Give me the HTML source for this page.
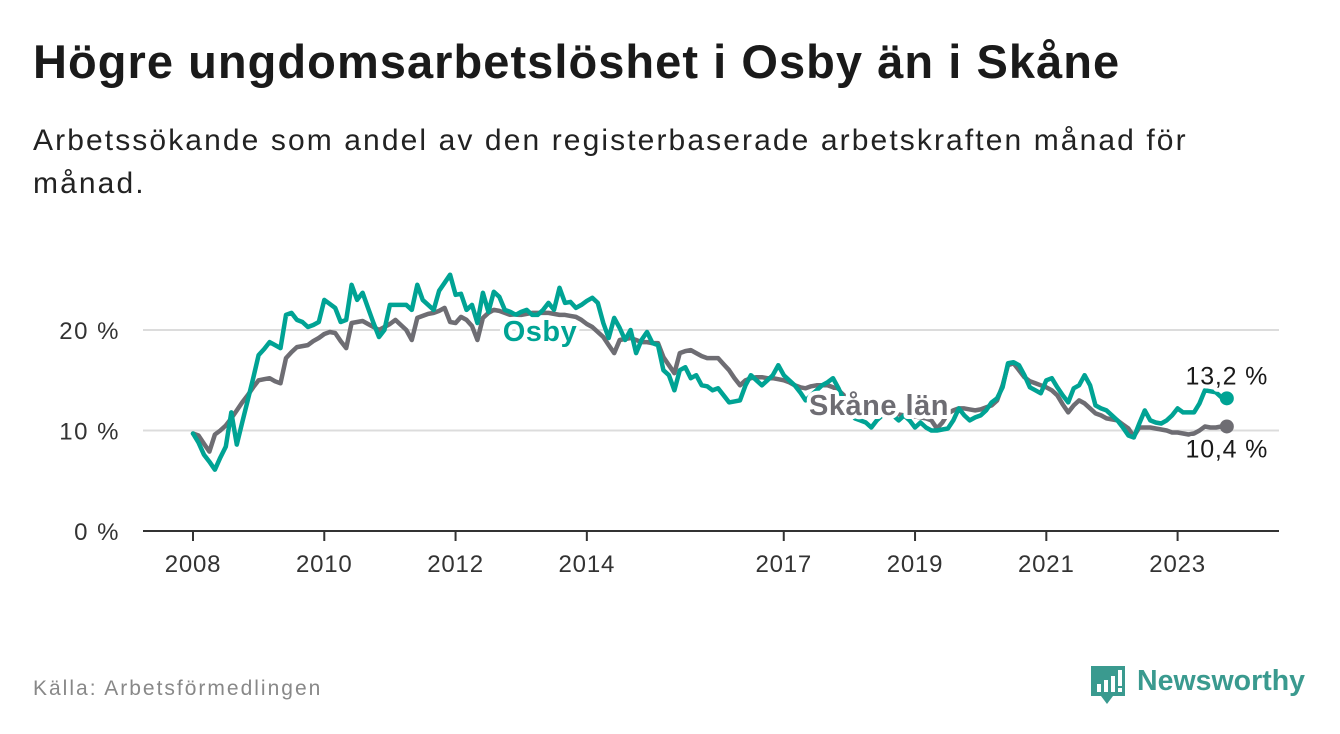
<!DOCTYPE html>
<html><head><meta charset="utf-8">
<style>
body{margin:0;background:#fff;font-family:"Liberation Sans",sans-serif;}
#wrap{position:relative;width:1340px;height:734px;overflow:hidden;background:#fff;}
h1{position:absolute;left:33px;top:34px;margin:0;font-size:47px;font-weight:bold;color:#1a1a1a;letter-spacing:1.05px;}
.sub{position:absolute;left:33px;top:119px;margin:0;font-size:30px;line-height:43px;letter-spacing:2.1px;color:#222;width:1230px;}
.src{position:absolute;left:33px;top:677px;font-size:21px;letter-spacing:2px;color:#888;}
svg text{font-family:"Liberation Sans",sans-serif;}
</style></head><body>
<div id="wrap">
<h1>Högre ungdomsarbetslöshet i Osby än i Skåne</h1>
<p class="sub">Arbetssökande som andel av den registerbaserade arbetskraften månad för<br>månad.</p>
<svg id="chart" width="1340" height="734" style="position:absolute;left:0;top:0"></svg>
<div class="src">Källa: Arbetsförmedlingen</div>
<div style="position:absolute;left:1089px;top:662px;">
<svg width="240" height="44"><path d="M2 4 h34 v30 h-12 l-6 8 l-6 -8 h-10 z" fill="#3a9a8f"/><rect x="8" y="22" width="4" height="8" fill="#fff"/><rect x="15" y="18" width="4" height="12" fill="#fff"/><rect x="22" y="14" width="4" height="16" fill="#fff"/><rect x="29" y="8" width="4" height="16" fill="#fff"/><rect x="29" y="26" width="4" height="4" fill="#fff"/>
<text x="48" y="28" font-size="29" font-weight="bold" fill="#3a9a8f" textLength="168" lengthAdjust="spacingAndGlyphs">Newsworthy</text></svg></div>
</div>
<script>
const yearLabels=["2008","2010","2012","2014","2017","2019","2021","2023"];
const yTicks=[0,10,20];
const osby=[9.7,8.8,7.6,6.9,6.1,7.3,8.4,11.8,8.6,10.8,13.0,15.2,17.5,18.1,18.8,18.5,18.2,21.5,21.7,21.0,20.8,20.3,20.5,20.8,23.0,22.6,22.2,20.8,21.0,24.5,23.0,23.7,22.2,20.7,19.3,20.0,22.5,22.5,22.5,22.5,22.0,24.5,23.0,22.5,22.0,23.9,24.7,25.5,23.5,
23.6,22.0,22.5,20.7,23.7,21.8,23.8,23.3,22.0,21.8,21.5,21.8,22.0,21.5,21.5,22.0,22.7,22.0,24.2,22.7,22.8,22.2,22.5,22.9,23.2,22.7,20.7,19.2,21.2,20.2,19.0,20.0,17.7,19.0,19.8,18.7,18.5,16.0,15.5,14.0,16.0,16.3,15.2,15.5,14.5,14.4,14.0,
14.2,13.5,12.8,12.9,13.0,14.5,15.5,15.0,14.5,15.0,15.5,16.5,15.5,15.0,14.5,13.8,13.0,13.5,14.0,14.5,14.8,15.2,14.2,13.0,12.0,11.2,11.0,10.8,10.3,11.0,11.5,12.0,11.5,11.0,11.5,11.0,10.3,10.8,10.3,10.0,10.0,10.1,10.2,11.0,12.2,11.5,11.0,11.3,11.5,12.0,
12.8,13.2,14.3,16.7,16.8,16.5,15.5,14.3,14.0,13.7,15.0,15.2,14.3,13.5,12.8,14.2,14.5,15.5,14.5,12.5,12.2,12.0,11.5,11.0,10.3,9.5,9.3,10.7,12.0,11.0,10.8,10.7,11.0,11.5,12.2,11.8,11.8,11.8,12.7,14.0,13.9,13.8,13.3,13.2];
const skane=[9.7,9.5,8.7,7.9,9.6,10.0,10.5,11.2,12.0,12.8,13.5,14.3,15.0,15.1,15.2,14.9,14.7,17.2,17.8,18.3,18.4,18.5,18.9,19.2,19.6,19.8,19.7,18.9,18.2,20.7,20.8,20.9,20.6,20.3,20.0,20.3,20.6,21.0,20.5,20.0,19.0,21.2,21.4,21.6,21.7,21.9,22.2,20.8,20.7,
21.3,21.0,20.4,19.0,21.2,21.7,22.0,21.9,21.7,21.5,21.5,21.5,21.6,21.7,21.7,21.7,21.7,21.6,21.5,21.5,21.4,21.3,21.0,20.6,20.3,19.8,19.3,18.5,17.7,19.0,19.1,19.2,19.0,18.8,18.8,18.7,18.7,17.3,16.5,15.7,17.7,17.9,18.0,17.7,17.4,17.2,17.2,
17.2,16.6,16.0,15.2,14.5,15.0,15.2,15.3,15.3,15.2,15.2,15.1,15.0,14.8,14.5,14.3,14.2,14.4,14.5,14.5,14.5,14.3,14.0,13.5,13.0,12.8,12.5,12.3,12.2,12.0,11.8,11.8,11.7,11.6,11.5,11.5,11.4,11.3,11.2,11.0,10.2,10.8,11.7,12.0,12.2,12.2,12.1,12.0,12.1,12.3,
12.5,13.0,14.5,16.5,16.7,16.0,15.3,14.9,14.7,14.5,14.3,14.0,13.5,12.6,11.8,12.5,13.0,12.7,12.2,11.7,11.5,11.2,11.1,11.0,10.6,10.2,9.4,10.3,10.3,10.3,10.2,10.1,10.0,9.8,9.8,9.7,9.6,9.7,10.0,10.4,10.3,10.3,10.4,10.4];

const NS="http://www.w3.org/2000/svg";
const svg=document.getElementById('chart');
const X0=193, PXM=5.47, Y0=531, PXP=10.05;
const xM=m=>X0+m*PXM;
const xY=y=>X0+(parseInt(y)-2008)*12*PXM;
const yV=v=>Y0-v*PXP;
function el(t,a,txt){const e=document.createElementNS(NS,t);for(const k in a)e.setAttribute(k,a[k]);if(txt!==undefined)e.textContent=txt;svg.appendChild(e);return e;}
yTicks.forEach(t=>{
  if(t>0){const g=el('line',{x1:143,x2:1279,y1:yV(t),y2:yV(t),stroke:'#dcdcdc','stroke-width':2});
  
  }
  const l=el('text',{x:120,y:yV(t)+9,'text-anchor':'end','font-size':24,'letter-spacing':1.5,fill:'#333'},t+' %');
  
  
});
const ax=el('line',{x1:143,x2:1279,y1:Y0,y2:Y0,stroke:'#333','stroke-width':2});


yearLabels.forEach(y=>{
  const x=xY(y);
  const tk=el('line',{x1:x,x2:x,y1:Y0,y2:Y0+10,stroke:'#333','stroke-width':2});
  
  
  const l=el('text',{x:x,y:572,'text-anchor':'middle','font-size':24,'letter-spacing':0.8,fill:'#333'},y);
  
  
});
function line(arr,color,name){
  const d=arr.map((v,i)=>(i?'L':'M')+xM(i).toFixed(1)+' '+yV(v).toFixed(1)).join(' ');
  const p=el('path',{d:d,fill:'none',stroke:color,'stroke-width':4.5,'stroke-linejoin':'round','stroke-linecap':'round'});
  
  
  const n=arr.length-1;
  const c=el('circle',{cx:xM(n),cy:yV(arr[n]),r:7,fill:color});
  
  
}
line(skane,'#6e6d73','skane-line');
line(osby,'#00a394','osby-line');
function lab(x,y,txt,color,bold,name){
  const t=el('text',{x:x,y:y,'text-anchor':'middle','font-size':bold?29:25,'letter-spacing':bold?0.5:0.8,'font-weight':bold?'bold':'normal',fill:color,stroke:'#fff','stroke-width':8,'paint-order':'stroke','stroke-linejoin':'round'},txt);
  
  
}
lab(540,341,'Osby','#00a394',true,'osby-series-label');
lab(879,415,'Skåne län','#6e6d73',true,'skane-series-label');
const n=osby.length-1;
lab(xM(n),yV(osby[n])-14,String(osby[n]).replace('.',',')+' %','#1a1a1a',false,'osby-end-value');
lab(xM(n),yV(skane[n])+31,String(skane[n]).replace('.',',')+' %','#1a1a1a',false,'skane-end-value');
</script>
</body></html>
